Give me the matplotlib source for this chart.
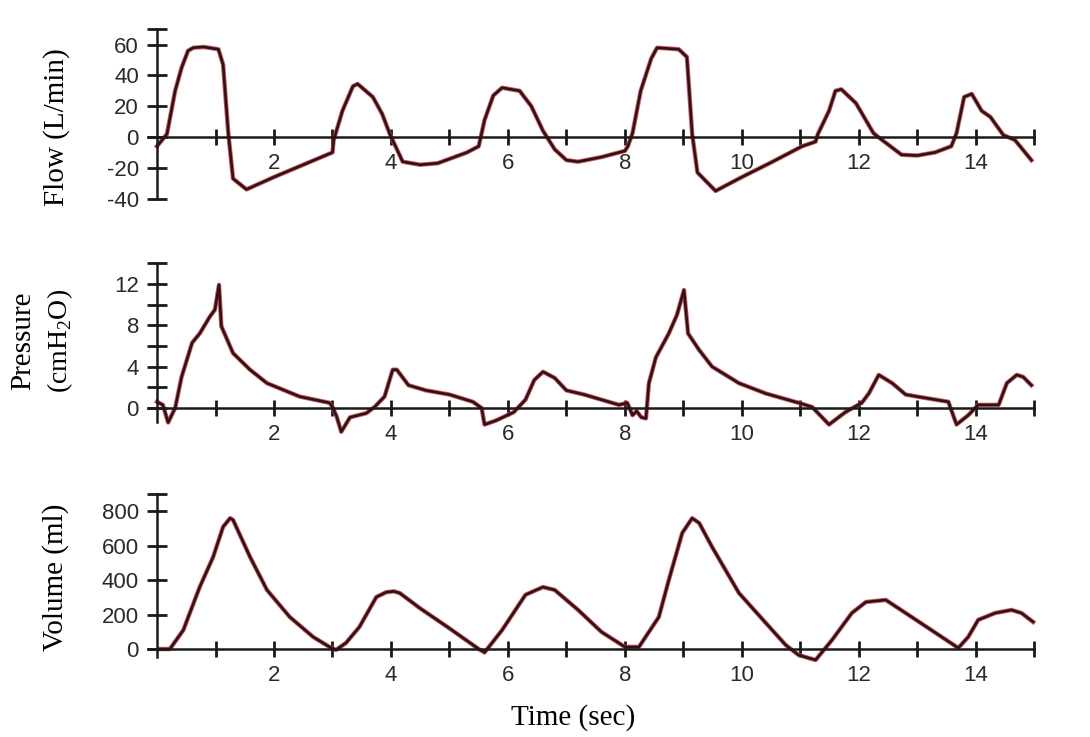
import numpy as np
import matplotlib
matplotlib.use('Agg')
import matplotlib.pyplot as plt

# values
flow_t = [0.0, 0.17, 0.31, 0.42, 0.53, 0.62, 0.8, 1.05, 1.13, 1.22, 1.3, 1.53, 2.0, 2.5, 3.0,
          3.02, 3.17, 3.35, 3.43, 3.69, 3.85, 3.98, 4.2, 4.5, 4.8, 5.3, 5.5, 5.6, 5.75, 5.9,
          6.2, 6.4, 6.6, 6.8, 7.0, 7.2, 7.6, 7.9, 8.0, 8.05, 8.13, 8.27, 8.45, 8.55, 8.92,
          9.06, 9.15, 9.24, 9.55, 10.0, 10.5, 11.03, 11.26, 11.3, 11.49, 11.6, 11.7, 11.95,
          12.25, 12.4, 12.73, 13.0, 13.3, 13.58, 13.67, 13.8, 13.93, 14.1, 14.25, 14.47,
          14.67, 14.95]
flow_v = [-6, 2, 30, 45, 56, 58, 58.5, 57, 47, 2, -27, -34, -26, -18, -10,
          -2, 17, 33, 34.5, 26, 15, 2, -16, -18, -17, -10, -6, 11, 27, 32,
          30, 20, 4, -8, -15, -16, -13, -10, -9, -6, 2.5, 30, 51, 58, 57,
          52, 2, -23, -35, -26, -16.5, -6, -3, 2, 17, 30, 31, 22,
          2.5, -2, -11.5, -12, -10, -6, 2.5, 26, 28, 17, 13, 1.3,
          -2, -15]

pres_t = [0.0, 0.1, 0.19, 0.31, 0.42, 0.6, 0.73, 0.9, 0.99, 1.06, 1.1, 1.3, 1.59, 1.88,
          2.44, 2.95, 3.0, 3.07, 3.15, 3.3, 3.58, 3.72, 3.89, 4.03, 4.1, 4.3, 4.6, 5.0,
          5.4, 5.55, 5.6, 5.8, 6.1, 6.3, 6.45, 6.6, 6.8, 7.0, 7.3, 7.6, 7.9, 8.04, 8.13,
          8.2, 8.28, 8.36, 8.41, 8.53, 8.75, 8.89, 9.01, 9.08, 9.27, 9.49, 9.95, 10.41,
          10.97, 11.2, 11.49, 11.77, 12.05, 12.17, 12.34, 12.57, 12.8, 13.0, 13.53, 13.67,
          13.87, 14.04, 14.39, 14.53, 14.7, 14.81, 14.95]
pres_v = [0.6, 0.3, -1.4, 0, 3, 6.3, 7.2, 8.8, 9.5, 11.9, 7.9, 5.3, 3.7, 2.4,
          1.1, 0.5, 0.1, -0.8, -2.3, -0.9, -0.5, 0.1, 1.1, 3.7, 3.7, 2.2, 1.7, 1.3,
          0.6, 0, -1.6, -1.2, -0.4, 0.8, 2.7, 3.5, 2.9, 1.7, 1.3, 0.8, 0.3, 0.5, -0.7,
          -0.3, -0.9, -1.0, 2.4, 4.9, 7.2, 9.0, 11.4, 7.2, 5.6, 4.0, 2.4, 1.4,
          0.5, 0.1, -1.6, -0.4, 0.5, 1.4, 3.2, 2.4, 1.3, 1.1, 0.6, -1.6,
          -0.7, 0.3, 0.3, 2.4, 3.2, 3.0, 2.2]

vol_t = [0.05, 0.22, 0.45, 0.73, 0.96, 1.13, 1.25, 1.3, 1.59, 1.88, 2.27, 2.67, 2.95, 3.06,
         3.23, 3.46, 3.75, 3.92, 4.05, 4.15, 4.5, 5.0, 5.5, 5.6, 5.9, 6.3, 6.6, 6.8, 7.2,
         7.6, 8.0, 8.24, 8.58, 8.75, 8.98, 9.15, 9.27, 9.49, 9.95, 10.41, 10.75, 10.97,
         11.26, 11.54, 11.88, 12.12, 12.46, 12.8, 13.24, 13.7, 13.87, 14.04, 14.33, 14.61,
         14.78, 14.98]
vol_v = [0, 0, 110, 360, 535, 710, 760, 750, 535, 343, 186, 70, 12, -5,
         35, 128, 302, 330, 335, 325, 236, 120, 0, -20, 110, 315, 360, 343, 227,
         99, 12, 12, 186, 400, 674, 760, 732, 593, 325, 151, 23, -35,
         -64, 52, 209, 273, 285, 209, 110, 6, 70, 169, 209, 227,
         209, 157]

x_ticks = list(range(1, 16))
x_labels = [str(t) if t % 2 == 0 else '' for t in x_ticks]

flow_ticks = [-40, -20, 0, 20, 40, 60, 70]
flow_labels = ['-40', '-20', '0', '20', '40', '60', '']
pres_ticks = [0, 2, 4, 6, 8, 10, 12, 14]
pres_labels = ['0', '', '4', '', '8', '', '12', '']
vol_ticks = [0, 200, 400, 600, 800, 900]
vol_labels = ['0', '200', '400', '600', '800', '']

serif = 'Liberation Serif'
sans = 'Liberation Sans'
plt.rcParams['mathtext.fontset'] = 'custom'
plt.rcParams['mathtext.rm'] = serif

fig = plt.figure(figsize=(10.9, 7.37), dpi=100)
ax1 = fig.add_axes([0.136, 0.7263, 0.8156, 0.2361])
ax2 = fig.add_axes([0.136, 0.4099, 0.8156, 0.2373])
ax3 = fig.add_axes([0.136, 0.1007, 0.8156, 0.2324])

panels = [
    (ax1, flow_t, flow_v, flow_ticks, flow_labels, (-42, 71), (-40, 70)),
    (ax2, pres_t, pres_v, pres_ticks, pres_labels, (-2.6, 14.3), (-1.4, 14)),
    (ax3, vol_t, vol_v, vol_ticks, vol_labels, (-80, 915), (-45, 900)),
]

for ax, t, v, yt, yl, lim, sb in panels:
    ax.plot(t, v, color='#cc3040', lw=3.2, alpha=0.8, solid_joinstyle='round')
    ax.plot(t, v, color='#2a1414', lw=1.9, solid_joinstyle='round')
    ax.set_xlim(-0.15, 15.05)
    ax.set_ylim(*lim)
    for s in ['top', 'right']:
        ax.spines[s].set_visible(False)
    ax.spines['left'].set_position(('data', 0))
    ax.spines['bottom'].set_position(('data', 0))
    ax.spines['left'].set_bounds(*sb)
    ax.spines['bottom'].set_bounds(-0.15, 15)
    ax.spines['left'].set_linewidth(1.8)
    ax.spines['bottom'].set_linewidth(1.8)
    ax.spines['left'].set_color('#1a1a1a')
    ax.spines['bottom'].set_color('#1a1a1a')
    ax.set_xticks(x_ticks)
    ax.set_xticklabels(x_labels, fontfamily=sans, fontsize=16, color='#2a2a2a')
    ax.set_yticks(yt)
    ax.set_yticklabels(yl, fontfamily=sans, fontsize=16, color='#2a2a2a')
    ax.tick_params(axis='x', direction='inout', length=11, width=2, pad=6, color='#1a1a1a')
    ax.tick_params(axis='y', direction='inout', length=14, width=2, pad=6, color='#1a1a1a')
    ax.patch.set_alpha(0)

fig.text(0.052, 0.828, 'Flow (L/min)', rotation=90, ha='center', va='center',
         fontfamily=serif, fontsize=21)
fig.text(0.021, 0.538, 'Pressure', rotation=90, ha='center', va='center',
         fontfamily=serif, fontsize=21)
fig.text(0.055, 0.538, r'(cmH$_\mathregular{2}$O)', rotation=90, ha='center', va='center',
         fontfamily=serif, fontsize=20)
fig.text(0.051, 0.217, 'Volume (ml)', rotation=90, ha='center', va='center',
         fontfamily=serif, fontsize=21)
fig.text(0.526, 0.027, 'Time (sec)', ha='center', va='center',
         fontfamily=serif, fontsize=21)

plt.savefig('out.png', dpi=100)
